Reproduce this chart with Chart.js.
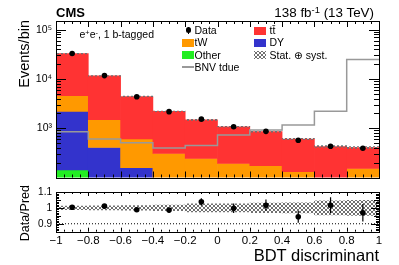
<!DOCTYPE html>
<html>
<head>
<meta charset="utf-8">
<script src="https://cdn.jsdelivr.net/npm/chart.js@4.4.1/dist/chart.umd.min.js"></script>
<style>
  body { margin: 0; background: #fff; }
  #wrap { position: relative; width: 399px; height: 265px; overflow: hidden;
          font-family: "Liberation Sans", Arial, Helvetica, "DejaVu Sans", sans-serif; color: #000; }
  canvas { position: absolute; left: 0; top: 0; }
  .t { position: absolute; white-space: nowrap; line-height: 1; z-index: 5; }
  .sup { font-size: 70%; position: relative; top: -0.45em; }
  .box { position: absolute; width: 11.5px; height: 8px; z-index: 5; }
  .rot { position: absolute; width: 100px; text-align: right; transform-origin: 0 0; transform: rotate(-90deg);
         white-space: nowrap; line-height: 1; z-index: 5; }
</style>
</head>
<body>
<div id="wrap">
  <canvas id="ratio" width="399" height="265"></canvas>
  <canvas id="main" width="399" height="265"></canvas>

  <div class="t" style="left:56px; top:6.3px; font-size:13px; font-weight:bold;">CMS</div>
  <div class="t" style="right:25px; top:6px; font-size:13.4px;">138 fb<span class="sup">-1</span> (13 TeV)</div>
  <div class="t" style="left:79.5px; top:28.8px; font-size:10.5px;">e<span class="sup">+</span>e<span class="sup">-</span>, 1 b-tagged</div>

  <div class="rot" style="left:17px; top:120px; font-size:14.5px;">Events/bin</div>
  <div class="rot" style="left:19px; top:285px; font-size:12.5px;">Data/Pred</div>
  <div class="t" style="right:20px; top:246.7px; font-size:16.5px;">BDT discriminant</div>

  <!-- legend -->
  <div style="position:absolute; left:185.5px; top:27.2px; width:5.6px; height:5.6px; border-radius:50%; background:#000; z-index:5;"></div>
  <div style="position:absolute; left:187.8px; top:26.5px; width:1px; height:7px; background:#000; z-index:5;"></div>
  <div class="t" style="left:194.5px; top:24.9px; font-size:10.5px;">Data</div>
  <div class="box" style="left:182px; top:38.5px; background:#ff9900;"></div>
  <div class="t" style="left:194.5px; top:37.4px; font-size:10.5px;">tW</div>
  <div class="box" style="left:182px; top:50.7px; background:#22ee22;"></div>
  <div class="t" style="left:194.5px; top:49.6px; font-size:10.5px;">Other</div>
  <div style="position:absolute; left:182px; top:66.2px; width:11.5px; height:1.5px; background:#999; z-index:5;"></div>
  <div class="t" style="left:194.5px; top:61.9px; font-size:10.5px;">BNV tdue</div>
  <div class="box" style="left:254px; top:26.5px; background:#ff3333;"></div>
  <div class="t" style="left:269.5px; top:24.9px; font-size:10.5px;">tt&#772;</div>
  <div class="box" style="left:254px; top:38.5px; background:#3333cc;"></div>
  <div class="t" style="left:269.5px; top:37.4px; font-size:10.5px;">DY</div>
  <div class="box" id="hatchBox" style="left:254px; top:50.7px;"></div>
  <div class="t" style="left:269.5px; top:49.6px; font-size:10.5px;">Stat. &#8853; syst.</div>
</div>

<script>
// bins of the BDT discriminant
var edges = [-1, -0.8, -0.6, -0.4, -0.2, 0, 0.2, 0.4, 0.6, 0.8, 1];
var centers = [-0.9, -0.7, -0.5, -0.3, -0.1, 0.1, 0.3, 0.5, 0.7, 0.9];

// events per bin
var dataEvents = [32800, 11700, 4350, 2170, 1530, 1070, 865, 570, 430, 392];
var ttbar = [28100, 10110, 3800, 1890, 1230, 880, 680, 470, 365, 255];
var tW = [2400, 1085, 445, 231, 190, 151, 139, 105, 40, 131];
var DY = [2058, 365, 133, 60, 40, 30, 25, 20, 15, 15];
var other = [142, 40, 25, 15, 12, 10, 8, 6, 5, 5];
var bnv = [850, 603, 506, 395, 446, 727, 919, 1160, 2200, 24700];

// ratio panel
var ratio = [1.004, 1.011, 0.988, 0.986, 1.038, 0.998, 1.017, 0.944, 1.017, 0.969];
var ratioErr = [0.006, 0.01, 0.012, 0.015, 0.023, 0.03, 0.035, 0.037, 0.05, 0.055];
var systUnc = [0.012, 0.013, 0.015, 0.017, 0.025, 0.025, 0.03, 0.032, 0.045, 0.047];

// tick labels
var yTicksTop = [1e3, 1e4, 1e5];
var yTicksRatio = [0.9, 1, 1.1];
var supDigits = { 3: '\u00b3', 4: '\u2074', 5: '\u2075' };

// hatch pattern for the uncertainty band
var hatchCanvas = document.createElement('canvas');
hatchCanvas.width = 4; hatchCanvas.height = 4;
var hg = hatchCanvas.getContext('2d');
hg.fillStyle = '#707070';
for (var i = 0; i < 4; i++) { hg.fillRect(i, i, 1, 1); hg.fillRect(3 - i, i, 1, 1); }
document.getElementById('hatchBox').style.background = 'url(' + hatchCanvas.toDataURL() + ')';

function hatchFor(canvas) {
  return canvas.getContext('2d').createPattern(hatchCanvas, 'repeat');
}

// frame with inward ticks, like the ROOT style
function frameTicks(id, xMajor, xMinor, yTickList) {
  return {
    id: id,
    afterDatasetsDraw: function (chart) {
      var ctx = chart.ctx, a = chart.chartArea, x = chart.scales.x, y = chart.scales.y;
      ctx.save();
      ctx.strokeStyle = '#000';
      ctx.lineWidth = 1;
      ctx.beginPath();
      for (var k = 0; k <= 40; k++) {
        var px = Math.round(x.getPixelForValue(-1 + k * 0.05)) + 0.5;
        var len = k % 4 === 0 ? xMajor : xMinor;
        ctx.moveTo(px, a.bottom); ctx.lineTo(px, a.bottom - len);
        ctx.moveTo(px, a.top); ctx.lineTo(px, a.top + len);
      }
      yTickList.forEach(function (t) {
        var py = Math.round(y.getPixelForValue(t[0])) + 0.5;
        ctx.moveTo(a.left, py); ctx.lineTo(a.left + t[1], py);
        ctx.moveTo(a.right, py); ctx.lineTo(a.right - t[1], py);
      });
      ctx.stroke();
      ctx.strokeRect(Math.round(a.left) + 0.5, Math.round(a.top) + 0.5,
        Math.round(a.right - a.left), Math.round(a.bottom - a.top));
      ctx.restore();
    }
  };
}

var logTicks = [];
for (var e = 2; e <= 5; e++) {
  for (var m = 1; m <= 9; m++) {
    var v = m * Math.pow(10, e);
    if (v <= 150000) logTicks.push([v, m === 1 ? 10 : 5]);
  }
}
var ratioTicks = [];
for (var k = 85; k <= 110; k++) {
  ratioTicks.push([k / 100, k % 10 === 0 ? 8 : (k % 5 === 0 ? 5 : 3)]);
}

function fmtX(v) {
  if (Math.abs(v) < 1e-9) return '0';
  return (v < 0 ? '\u2212' : '') + String(Math.abs(+v.toFixed(1)));
}

// ---------- main panel ----------
var mainCanvas = document.getElementById('main');
var procs = [
  { label: 'Other', vals: other, color: '#22ee22' },
  { label: 'DY', vals: DY, color: '#3333cc' },
  { label: 'tW', vals: tW, color: '#ff9900' },
  { label: 'tt\u0304', vals: ttbar, color: '#ff3333' }
];
// log axis cannot take 0, so the stack starts at 1 (below the visible range)
var below = centers.map(function () { return 1; });
var stackSets = procs.map(function (p, k) {
  var d = centers.map(function (c, i) { return { x: c, y: [below[i], below[i] + p.vals[i]] }; });
  below = below.map(function (b, i) { return b + p.vals[i]; });
  return {
    type: 'bar', label: p.label, data: d, backgroundColor: p.color, clip: 0,
    borderWidth: 0, grouped: false, barPercentage: 1, categoryPercentage: 1, order: 6 - k
  };
});
var totals = below;

var bnvPoints = edges.map(function (x0, i) { return { x: x0, y: bnv[Math.min(i, bnv.length - 1)] }; });

new Chart(mainCanvas, {
  data: {
    datasets: [
      {
        type: 'scatter', label: 'Data', order: 0, clip: 4,
        data: centers.map(function (c, i) { return { x: c, y: dataEvents[i] }; }),
        pointRadius: 2.8, pointBackgroundColor: '#000', pointBorderWidth: 0
      },
      {
        type: 'line', label: 'BNV tdue', order: 1, data: bnvPoints, stepped: true, clip: 0,
        borderColor: '#999999', borderWidth: 1.5, pointRadius: 0, fill: false
      },
      {
        type: 'bar', label: 'Stat. \u2295 syst.', order: 2, clip: 0,
        data: centers.map(function (c, i) { return { x: c, y: [totals[i] * (1 - systUnc[i]), totals[i] * (1 + systUnc[i])] }; }),
        backgroundColor: hatchFor(mainCanvas), borderWidth: 0, grouped: false,
        barPercentage: 1, categoryPercentage: 1
      }
    ].concat(stackSets)
  },
  options: {
    responsive: false, animation: false, devicePixelRatio: 1, events: [],
    layout: { padding: { top: 21, right: 20, bottom: 87.5, left: 0 } },
    plugins: { legend: { display: false }, tooltip: { enabled: false } },
    scales: {
      x: { type: 'linear', min: -1, max: 1, offset: false, display: false },
      y: {
        type: 'logarithmic', min: 100, max: 150000,
        afterBuildTicks: function (s) { s.ticks = yTicksTop.map(function (v) { return { value: v }; }); },
        afterFit: function (s) { s.width = 56; },
        grid: { display: false, drawTicks: false }, border: { display: false },
        ticks: {
          padding: 4, color: '#000', font: { size: 10.5, family: '"Liberation Sans", Arial, sans-serif' },
          callback: function (v) { return '10' + supDigits[Math.round(Math.log10(v))]; }
        }
      }
    }
  },
  plugins: [frameTicks('frameMain', 6, 3, logTicks)]
});

// ---------- ratio panel ----------
var ratioCanvas = document.getElementById('ratio');
var errorBars = {
  id: 'errorBars',
  afterDatasetsDraw: function (chart) {
    var ctx = chart.ctx, x = chart.scales.x, y = chart.scales.y;
    ctx.save();
    ctx.strokeStyle = '#000';
    ctx.lineWidth = 1.2;
    ctx.beginPath();
    centers.forEach(function (c, i) {
      var px = x.getPixelForValue(c);
      ctx.moveTo(px, y.getPixelForValue(ratio[i] - ratioErr[i]));
      ctx.lineTo(px, y.getPixelForValue(ratio[i] + ratioErr[i]));
    });
    ctx.stroke();
    ctx.restore();
  }
};

new Chart(ratioCanvas, {
  data: {
    datasets: [
      {
        type: 'scatter', label: 'Data/Pred', order: 0,
        data: centers.map(function (c, i) { return { x: c, y: ratio[i] }; }),
        pointRadius: 2.8, pointBackgroundColor: '#000', pointBorderWidth: 0
      },
      {
        type: 'line', order: 1, data: [{ x: -1, y: 0.9 }, { x: 1, y: 0.9 }],
        borderColor: '#000', borderWidth: 1, borderDash: [1, 2], pointRadius: 0, fill: false
      },
      {
        type: 'line', order: 1, data: [{ x: -1, y: 1.1 }, { x: 1, y: 1.1 }],
        borderColor: '#000', borderWidth: 1, borderDash: [1, 2], pointRadius: 0, fill: false
      },
      {
        type: 'bar', label: 'Stat. \u2295 syst.', order: 2, clip: 0,
        data: centers.map(function (c, i) { return { x: c, y: [1 - systUnc[i], 1 + systUnc[i]] }; }),
        backgroundColor: hatchFor(ratioCanvas), borderWidth: 0, grouped: false,
        barPercentage: 1, categoryPercentage: 1
      }
    ]
  },
  options: {
    responsive: false, animation: false, devicePixelRatio: 1, events: [],
    layout: { padding: { top: 192, right: 20, bottom: 0, left: 0 } },
    plugins: { legend: { display: false }, tooltip: { enabled: false } },
    scales: {
      x: {
        type: 'linear', min: -1, max: 1, offset: false,
        afterBuildTicks: function (s) { s.ticks = edges.map(function (v) { return { value: v }; }); },
        afterFit: function (s) { s.height = 33.3; },
        grid: { display: false, drawTicks: false }, border: { display: false },
        ticks: {
          autoSkip: false, maxRotation: 0, padding: 2, color: '#000',
          font: { size: 11.5, family: '"Liberation Sans", Arial, sans-serif' },
          callback: function (v) { return fmtX(v); }
        }
      },
      y: {
        type: 'linear', min: 0.85, max: 1.1,
        afterBuildTicks: function (s) { s.ticks = yTicksRatio.map(function (v) { return { value: v }; }); },
        afterFit: function (s) { s.width = 56; },
        grid: { display: false, drawTicks: false }, border: { display: false },
        ticks: {
          padding: 4, color: '#000', font: { size: 10, family: '"Liberation Sans", Arial, sans-serif' },
          callback: function (v) { return String(v); }
        }
      }
    }
  },
  plugins: [errorBars, frameTicks('frameRatio', 4, 2, ratioTicks)]
});
</script>
</body>
</html>
